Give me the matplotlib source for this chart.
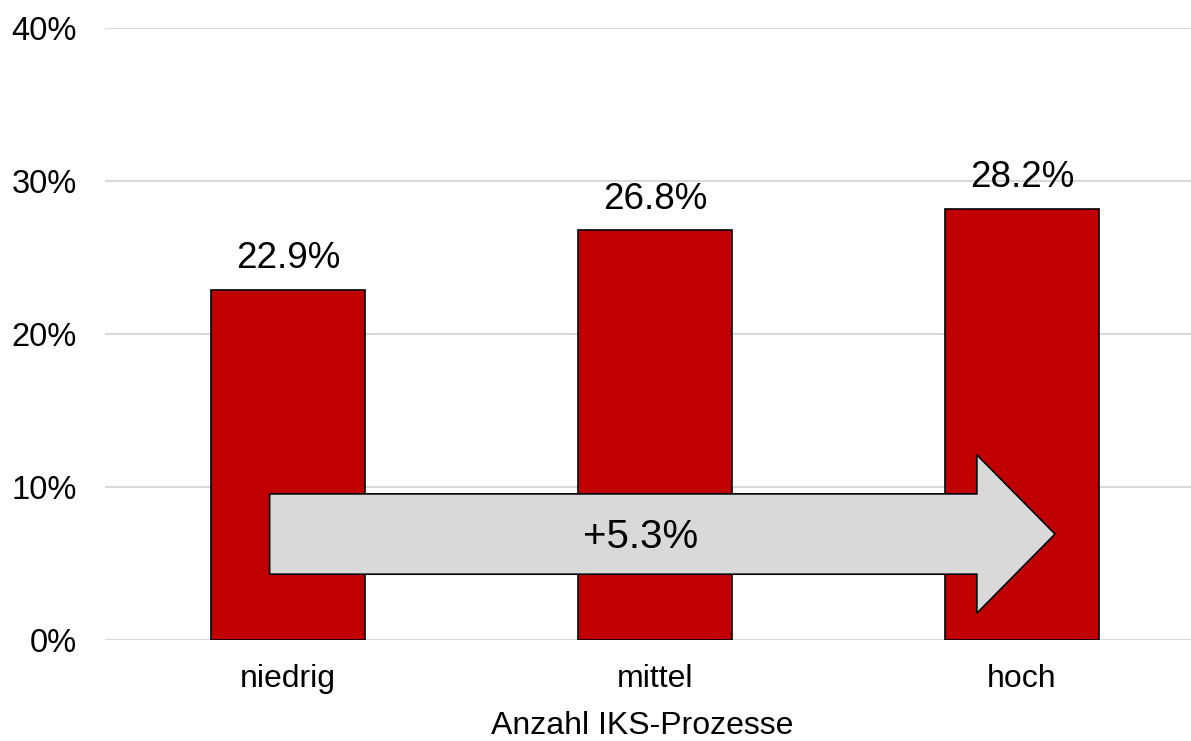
import matplotlib.pyplot as plt
from matplotlib.patches import Polygon
import numpy as np

plt.rcParams['font.family'] = ['Liberation Sans', 'DejaVu Sans']

categories = ['niedrig', 'mittel', 'hoch']
shares = [22.9, 26.8, 28.2]
increase = round(shares[-1] - shares[0], 1)

fig = plt.figure(figsize=(11.91, 7.41), dpi=100)
ax = fig.add_axes([104.5 / 1191, 101 / 741, 1101 / 1191, 612 / 741])

x = np.arange(len(categories))
ax.bar(x, shares, width=0.42, color='#c00000', edgecolor='black', linewidth=1.2, zorder=3)

for xi, v in zip(x, shares):
    ax.annotate(f'{v:.1f}%', (xi, v), xytext=(0, 9.5), textcoords='offset points',
                ha='center', va='bottom', fontsize=26.5)

# arrow across the bars showing the overall increase
x0, x1, xh = -0.05, 2.09, 1.877
s_lo, s_hi = 4.3, 9.55
h_lo, h_hi = 1.75, 12.1
mid = (s_lo + s_hi) / 2
arrow = Polygon([(x0, s_lo), (xh, s_lo), (xh, h_lo), (x1, mid), (xh, h_hi), (xh, s_hi), (x0, s_hi)],
                closed=True, facecolor='#d9d9d9', edgecolor='black', linewidth=1.2, zorder=4)
ax.add_patch(arrow)
ax.text(0.96, mid - 0.2, f'+{increase}%', ha='center', va='center', fontsize=29, zorder=5)

ax.set_xlim(-0.5, 2.5)
ax.set_ylim(0, 40)
ax.set_yticks([0, 10, 20, 30, 40])
ax.set_yticklabels([f'{t}%' for t in [0, 10, 20, 30, 40]])
ax.set_xticks(x)
ax.set_xticklabels(categories)
ax.tick_params(axis='y', length=0, pad=20, labelsize=23.5)
ax.tick_params(axis='x', length=0, pad=17, labelsize=23)
ax.grid(axis='y', color='#d9d9d9', linewidth=1.5, zorder=0)
for s in ax.spines.values():
    s.set_visible(False)
ax.set_xlabel('Anzahl IKS-Prozesse', fontsize=23)
ax.xaxis.set_label_coords(0.488, -0.14, transform=ax.transAxes)
ax.xaxis.label.set_va('center')

fig.savefig('out.png', dpi=100)
